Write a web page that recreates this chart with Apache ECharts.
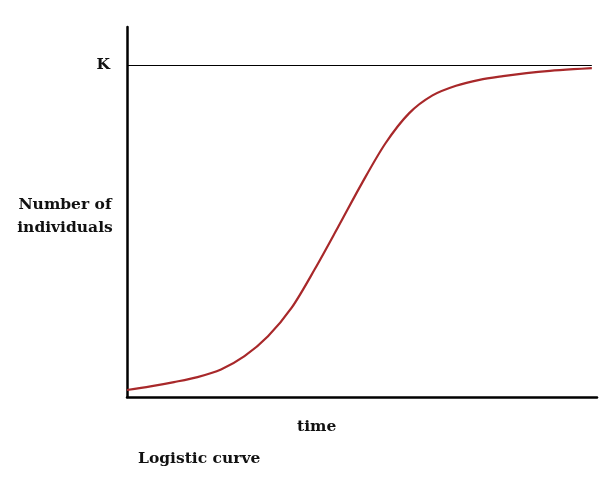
<!DOCTYPE html>
<html>
<head>
<meta charset="utf-8">
<script src="https://cdn.jsdelivr.net/npm/echarts@6/dist/echarts.min.js"></script>
<style>html,body{margin:0;padding:0;background:#fff;}#chart{width:607px;height:480px;}</style>
</head>
<body>
<div id="chart"></div>
<script>
// Time (x, 0–100 across the axis) and population (y, K = 100)
var timeValues = [0, 5, 10, 15, 20, 25, 30, 35, 40, 45, 50, 55, 60, 65, 70, 75, 80, 85, 90, 95, 98.9];
var populationValues = [2.1, 3.2, 4.5, 6.0, 8.3, 12.3, 18.3, 26.8, 38.6, 51.4, 64.4, 76.4, 85.4, 90.8, 93.7, 95.5, 96.6, 97.5, 98.2, 98.7, 99.0];
var carryingCapacity = 100;
var kLineExtent = [0, 98.9];
var yTickLabels = {100: 'K'};
var xAxisTitle = 'time';
var yAxisTitle = 'Number of\nindividuals';
var chartCaption = 'Logistic curve';

var FONT = 'bold 15.5px "DejaVu Serif"';
var chart = echarts.init(document.getElementById('chart'));
chart.setOption({
  animation: false,
  backgroundColor: '#fff',
  grid: {left: 127, right: 10, top: 27, bottom: 83},
  xAxis: {
    type: 'value', min: 0, max: 100,
    axisLine: {show: true, lineStyle: {color: '#000', width: 2.5}},
    axisTick: {show: false}, axisLabel: {show: false}, splitLine: {show: false}
  },
  yAxis: {
    type: 'value', min: 0, max: 111.4, interval: 100,
    axisLine: {show: true, lineStyle: {color: '#000', width: 2.5}},
    axisTick: {show: false}, splitLine: {show: false},
    axisLabel: {
      show: true, margin: 17, color: '#111',
      fontFamily: 'DejaVu Serif', fontWeight: 'bold', fontSize: 15.5,
      padding: [0, 0, 5, 0],
      formatter: function (v) { return yTickLabels[v] || ''; }
    }
  },
  series: [{
    type: 'line',
    data: timeValues.map(function (t, i) { return [t, populationValues[i]]; }),
    smooth: 0.3,
    symbol: 'none',
    lineStyle: {color: '#a8282a', width: 2.2},
    markLine: {
      silent: true, symbol: 'none', label: {show: false},
      lineStyle: {color: '#000', width: 1.2, type: 'solid'},
      data: [[{coord: [kLineExtent[0], carryingCapacity]}, {coord: [kLineExtent[1], carryingCapacity]}]]
    }
  }],
  graphic: [
    {type: 'text', x: 65, y: 193, style: {text: yAxisTitle, font: FONT, fill: '#111', align: 'center', verticalAlign: 'top', lineHeight: 23}},
    {type: 'text', x: 297, y: 419, style: {text: xAxisTitle, font: FONT, fill: '#111', align: 'left', verticalAlign: 'top'}},
    {type: 'text', x: 138, y: 451, style: {text: chartCaption, font: FONT, fill: '#111', align: 'left', verticalAlign: 'top'}}
  ]
});
</script>
</body>
</html>
